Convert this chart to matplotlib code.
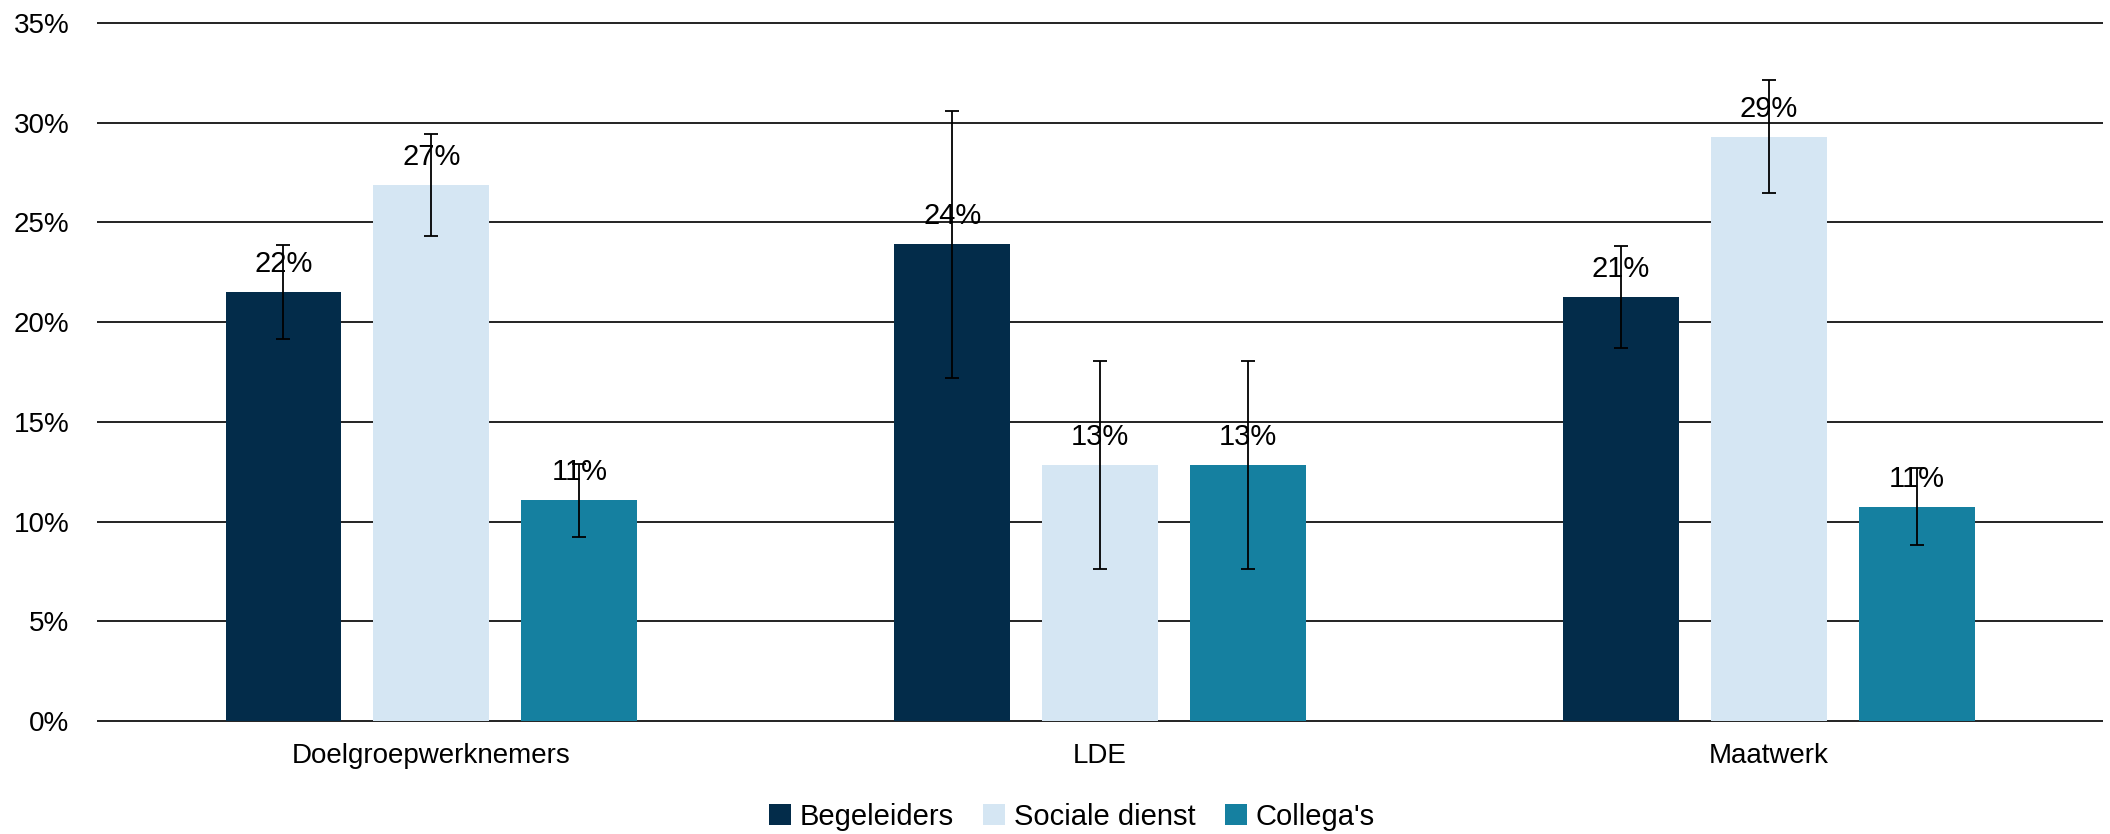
import numpy as np
import matplotlib
matplotlib.use('Agg')
import matplotlib.pyplot as plt

# data (percentages)
categories = ['Doelgroepwerknemers', 'LDE', 'Maatwerk']
series = ['Begeleiders', 'Sociale dienst', "Collega's"]
begeleiders = [21.5, 23.9, 21.25]
sociale_dienst = [26.87, 12.84, 29.29]
collegas = [11.08, 12.84, 10.75]
err_begeleiders = [2.35, 6.68, 2.56]
err_sociale_dienst = [2.57, 5.2, 2.84]
err_collegas = [1.83, 5.2, 1.93]
labels_begeleiders = ['22%', '24%', '21%']
labels_sociale_dienst = ['27%', '13%', '29%']
labels_collegas = ['11%', '13%', '11%']
yticks = [0, 5, 10, 15, 20, 25, 30, 35]

colors = ['#032C4A', '#D5E6F3', '#1580A0']

plt.rcParams['font.family'] = ['Liberation Sans', 'DejaVu Sans']

fig = plt.figure(figsize=(21.1, 8.34), dpi=100)
ax = fig.add_axes([0.046, 0.1355, 0.9507, 0.837])

x = np.arange(len(categories))
width = 0.1734
step = 0.2212

values = [begeleiders, sociale_dienst, collegas]
errors = [err_begeleiders, err_sociale_dienst, err_collegas]
labels = [labels_begeleiders, labels_sociale_dienst, labels_collegas]

# horizontal grid lines (not clipped at the edges)
ax.hlines(yticks, -0.5, 2.5, color='#222222', linewidth=1.4, zorder=0, clip_on=False)

for i, (vals, errs, labs) in enumerate(zip(values, errors, labels)):
    pos = x + (i - 1) * step
    ax.bar(pos, vals, width, color=colors[i], label=series[i], zorder=2)
    ax.errorbar(pos, vals, yerr=errs, fmt='none', ecolor='black',
                elinewidth=1.3, capsize=5, capthick=1.3, zorder=4)
    for px, v, lab in zip(pos, vals, labs):
        ax.annotate(lab, (px, v), xytext=(0, 10), textcoords='offset points',
                    ha='center', va='bottom', fontsize=21, zorder=5)

ax.set_ylim(0, 35)
ax.set_xlim(-0.5, 2.5)
ax.set_yticks(yticks)
ax.set_yticklabels([f'{t}%' for t in yticks], fontsize=20)
ax.set_xticks(x)
ax.set_xticklabels(categories, fontsize=20)
ax.tick_params(axis='both', length=0)
ax.tick_params(axis='x', pad=16)
ax.tick_params(axis='y', pad=20)
for s in ax.spines.values():
    s.set_visible(False)

ax.legend(loc='center', bbox_to_anchor=(0.486, -0.137), ncol=3, frameon=False,
          handlelength=0.75, handleheight=0.75, handletextpad=0.3,
          columnspacing=1.0, prop={'family': ['Liberation Sans Narrow', 'Liberation Sans'], 'size': 21})

fig.savefig('out.png', dpi=100)
